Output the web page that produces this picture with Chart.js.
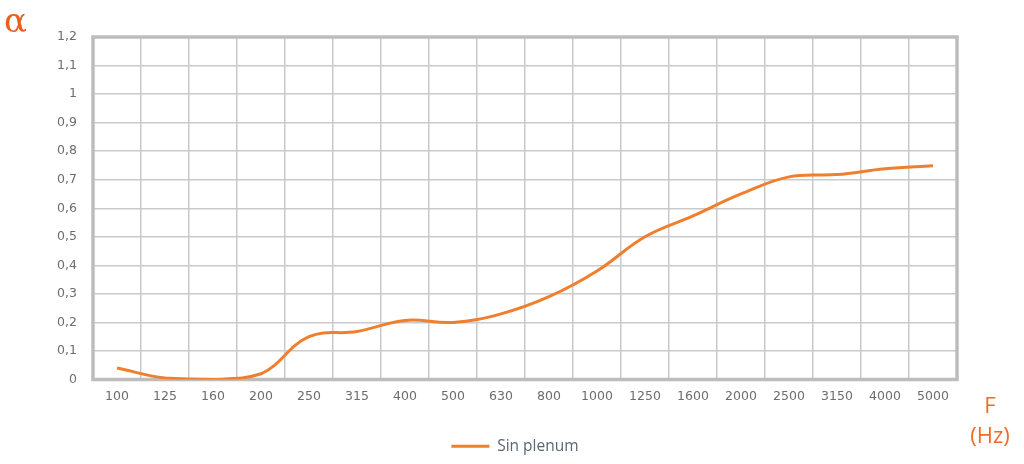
<!DOCTYPE html>
<html>
<head>
<meta charset="utf-8">
<script src="https://cdn.jsdelivr.net/npm/chart.js@4/dist/chart.umd.min.js"></script>
<style>
  html, body { margin: 0; padding: 0; background: #fff; }
  #wrap { width: 1024px; height: 464px; position: relative; }
</style>
</head>
<body>
<div id="wrap"><canvas id="absChart"></canvas></div>
<script>
// frequency bands (Hz)
var frequencies = ['100', '125', '160', '200', '250', '315', '400', '500', '630',
                   '800', '1000', '1250', '1600', '2000', '2500', '3150', '4000', '5000'];
// absorption coefficient, "Sin plenum"
var sinPlenum = [0.04, 0.005, 0, 0.02, 0.15, 0.168, 0.207, 0.2, 0.23,
                 0.29, 0.38, 0.5, 0.573, 0.65, 0.71, 0.718, 0.738, 0.749];
var yTickLabels = ['0', '0,1', '0,2', '0,3', '0,4', '0,5', '0,6', '0,7', '0,8', '0,9', '1', '1,1', '1,2'];

var orange = '#f07f2d';
var gridGrey = '#cacaca';

// thick frame round the plot + the alpha / F (Hz) captions
var framePlugin = {
    id: 'frame',
    afterLayout: function (chart) {
        // legend sits a bit left of the plot centre in the original
        chart.legend.left -= 10;
        chart.legend.right -= 10;
    },
    beforeDatasetsDraw: function (chart) {
        var a = chart.chartArea, c = chart.ctx;
        c.save();
        c.strokeStyle = '#bdbdbd';
        c.lineWidth = 3.5;
        c.strokeRect(a.left, a.top, a.right - a.left, a.bottom - a.top);
        c.restore();
    },
    afterDraw: function (chart) {
        var c = chart.ctx;
        c.save();
        c.fillStyle = '#e8601c';
        c.textBaseline = 'alphabetic';
        c.textAlign = 'left';
        c.font = '34px "DejaVu Serif"';
        c.fillText('\u03b1', 4, 32);
        c.fillStyle = '#f26a2a';
        c.textAlign = 'center';
        c.font = '22px "Open Sans"';
        c.fillText('F', 990, 413);
        c.fillText('(Hz)', 990, 443);
        c.restore();
    }
};

var ctx = document.getElementById('absChart');
var myChart = new Chart(ctx, {
    type: 'line',
    data: {
        labels: frequencies,
        datasets: [
            {
                label: 'Sin plenum',
                data: sinPlenum,
                borderColor: orange,
                backgroundColor: orange,
                borderWidth: 3,
                pointRadius: 0,
                tension: 0.4,
                fill: false
            }
        ]
    },
    options: {
        responsive: true,
        maintainAspectRatio: false,
        animation: false,
        layout: {
            padding: { left: 30, right: 67, top: 37, bottom: 0 }
        },
        plugins: {
            tooltip: { enabled: false },
            legend: {
                position: 'bottom',
                fullSize: false,
                labels: {
                    usePointStyle: true,
                    pointStyle: 'line',
                    pointStyleWidth: 38,
                    color: '#5b6670',
                    font: { family: '"Open Sans"', size: 15.5 },
                    padding: 10
                }
            }
        },
        scales: {
            x: {
                offset: true,
                grid: { offset: true, color: gridGrey, lineWidth: 1.5, drawTicks: false },
                border: { display: false },
                ticks: {
                    color: '#6d6d6d',
                    font: { family: '"DejaVu Sans"', size: 12.5 },
                    padding: 10,
                    maxRotation: 0,
                    autoSkip: false
                },
                afterFit: function (scale) { scale.height = 49; }
            },
            y: {
                min: 0,
                max: 1.2,
                grid: { color: gridGrey, lineWidth: 1.5, drawTicks: false },
                border: { display: false },
                ticks: {
                    stepSize: 0.1,
                    color: '#6d6d6d',
                    font: { family: '"DejaVu Sans"', size: 12.5 },
                    padding: 16,
                    callback: function (v, i) { return yTickLabels[i]; }
                },
                afterFit: function (scale) { scale.width = 63; }
            }
        }
    },
    plugins: [framePlugin]
});
</script>
</body>
</html>
